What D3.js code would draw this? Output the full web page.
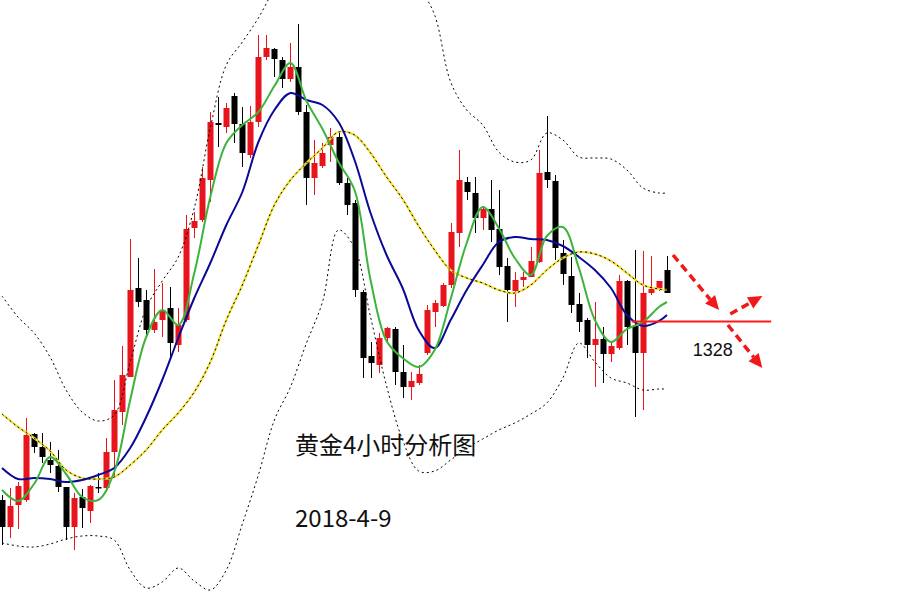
<!DOCTYPE html>
<html>
<head>
<meta charset="utf-8">
<script src="https://cdn.jsdelivr.net/npm/d3@7/dist/d3.min.js"></script>
<style>
html,body{margin:0;padding:0;background:#fff;}
svg{display:block;}
</style>
</head>
<body>
<svg id="chart" width="906" height="602"></svg>
<script>
// ---- candle data (price) ----
const opens  = [1310.1,1307.4,1309.6,1310.1,1316.7,1315.4,1314.1,1313.5,1311.4,1307.4,1310.4,1309.0,1311.4,1311.3,1314.9,1318.9,1322.4,1331.3,1330.1,1327.1,1328.1,1329.3,1325.6,1328.1,1337.3,1338.1,1342.1,1347.8,1347.4,1350.5,1347.7,1344.6,1347.9,1354.4,1355.2,1354.1,1352.2,1353.4,1348.9,1342.3,1343.5,1345.6,1346.4,1341.8,1339.8,1330.9,1324.5,1323.6,1326.3,1327.2,1322.9,1321.4,1321.8,1324.8,1328.9,1329.5,1331.6,1336.8,1341.9,1340.8,1338.3,1339.2,1337.2,1333.5,1331.0,1332.1,1332.4,1333.9,1342.9,1342.0,1334.8,1332.5,1329.7,1328.1,1325.6,1326.2,1324.7,1325.3,1332.0,1327.5,1324.8,1330.8,1331.3,1333.1];
const highs  = [1310.6,1311.3,1311.9,1318.3,1316.8,1316.8,1315.9,1315.1,1311.4,1310.8,1311.2,1311.6,1312.8,1316.3,1322.1,1325.5,1336.2,1334.3,1331.1,1333.2,1331.8,1331.4,1329.3,1338.6,1338.9,1343.4,1348.9,1350.4,1349.8,1350.8,1349.4,1349.5,1356.6,1356.6,1355.3,1354.4,1355.8,1357.7,1349.6,1346.1,1345.8,1347.3,1346.8,1342.3,1340.1,1331.1,1325.9,1326.8,1327.4,1327.4,1325.6,1322.9,1323.6,1329.6,1330.1,1331.8,1337.8,1345.1,1342.4,1342.4,1339.4,1342.1,1341.1,1334.3,1332.9,1332.9,1335.4,1345.1,1348.5,1342.6,1336.1,1334.4,1330.8,1328.3,1329.9,1327.4,1325.9,1332.6,1332.1,1335.1,1335.0,1334.5,1331.6,1334.5];
const lows   = [1305.6,1306.3,1307.2,1309.9,1314.8,1313.8,1312.8,1310.9,1306.1,1305.1,1307.3,1307.8,1310.8,1310.9,1312.3,1317.6,1322.4,1329.4,1326.4,1326.8,1326.4,1324.1,1324.9,1327.9,1336.3,1337.9,1339.9,1345.4,1346.8,1345.8,1343.4,1344.3,1347.4,1354.1,1352.4,1351.3,1351.9,1348.6,1339.6,1340.6,1343.3,1343.9,1341.6,1338.6,1330.4,1322.3,1322.3,1322.8,1325.9,1321.6,1320.3,1320.1,1321.6,1324.6,1327.4,1329.4,1331.3,1335.4,1340.1,1336.8,1337.1,1335.9,1332.6,1327.9,1329.4,1331.4,1332.4,1333.8,1341.3,1334.1,1331.6,1328.8,1326.9,1324.3,1321.4,1321.8,1323.9,1325.1,1325.6,1318.4,1319.1,1330.6,1331.0,1331.0];
const closes = [1307.4,1309.5,1311.5,1316.6,1315.4,1314.4,1313.6,1311.4,1307.4,1310.3,1309.3,1311.5,1311.3,1314.9,1319.1,1322.6,1331.1,1329.9,1327.1,1327.9,1329.1,1325.8,1327.6,1337.2,1338.0,1342.3,1347.9,1347.6,1349.3,1347.7,1344.8,1347.9,1354.4,1355.3,1354.2,1352.2,1353.4,1348.9,1342.3,1343.8,1344.8,1346.4,1341.8,1339.6,1331.1,1324.3,1323.8,1326.3,1327.3,1322.9,1321.4,1322.0,1322.7,1329.1,1329.8,1331.6,1336.9,1342.1,1340.9,1338.3,1339.2,1337.1,1333.4,1331.1,1332.1,1332.4,1334.0,1342.8,1342.1,1335.3,1332.7,1329.6,1327.9,1325.6,1326.2,1324.7,1325.5,1332.0,1327.4,1324.8,1330.8,1331.2,1332.0,1330.8];

// ---- indicator lines, sampled at these candle indexes ----
const lineIdx = [0,2,4,6,8,10,12,14,16,18,20,22,24,26,28,30,32,34,36,38,40,42,44,46,48,50,52,54,56,58,60,62,64,66,68,70,72,74,76,78,80,82,83];
const maFast  = [1311.1,1310.0,1311.7,1314.4,1312.7,1310.4,1310.1,1312.9,1320.1,1326.4,1329.1,1327.6,1332.8,1340.4,1345.8,1347.6,1348.9,1351.5,1353.8,1350.0,1347.2,1343.9,1341.1,1332.1,1326.0,1324.3,1323.4,1325.1,1330.2,1335.8,1339.4,1337.3,1334.3,1332.6,1336.5,1337.4,1333.3,1328.1,1325.9,1327.2,1327.9,1329.4,1329.9];
const maMid   = [1313.3,1312.2,1312.3,1312.2,1311.9,1312.1,1312.6,1313.3,1315.3,1318.4,1322.1,1326.3,1330.3,1333.8,1337.6,1340.9,1345.9,1349.1,1350.8,1350.1,1349.6,1347.9,1344.1,1338.8,1334.6,1331.3,1327.1,1325.3,1328.1,1331.1,1333.6,1335.9,1336.4,1336.2,1336.1,1335.5,1334.4,1333.1,1331.3,1328.6,1327.5,1328.0,1328.6];
const maSlow  = [1318.7,1317.4,1316.3,1315.0,1313.1,1312.3,1312.2,1312.4,1313.6,1315.1,1317.1,1318.8,1320.9,1323.9,1328.1,1331.6,1335.6,1339.6,1342.1,1343.8,1345.3,1346.9,1346.6,1344.8,1342.4,1340.2,1337.5,1335.1,1333.1,1332.3,1331.8,1331.1,1330.8,1331.6,1333.1,1334.3,1334.9,1334.7,1334.0,1332.8,1331.6,1331.2,1331.1];
const bandUp  = [1330.5,1328.4,1326.8,1324.4,1321.1,1318.9,1318.0,1318.6,1323.9,1329.3,1332.0,1334.4,1339.3,1347.3,1353.6,1355.9,1358.3,1361.3,1364.1,1367.1,1369.1,1370.1,1370.1,1369.1,1367.1,1364.6,1361.6,1358.6,1351.9,1349.1,1347.6,1344.9,1343.9,1344.1,1346.8,1346.1,1344.4,1344.3,1344.2,1343.1,1341.3,1340.8,1340.8];
const bandLow = [1305.8,1305.5,1305.4,1305.7,1306.2,1306.5,1306.5,1306.1,1303.1,1301.3,1301.9,1303.3,1302.0,1301.1,1303.1,1307.7,1312.6,1318.1,1321.4,1325.8,1329.9,1337.1,1335.3,1328.4,1321.5,1316.1,1313.0,1313.0,1314.1,1315.3,1316.2,1317.1,1317.8,1318.7,1319.8,1322.3,1325.8,1323.9,1322.3,1321.8,1321.1,1321.2,1321.2];

// ---- annotation data ----
const levelPrice = 1328;
const levelLabel = "1328";
const levelSpan = [78.6, 96.0];
const arrows = [
  {from:[83.75,1334.6], to:[89.5,1329.1]},
  {from:[90.9,1328.7],  to:[94.9,1330.5]},
  {from:[90.6,1327.6],  to:[94.9,1323.3]}
];
const labelAt = [86.2, 1324.5];
const titleText = "黄金4小时分析图";
const dateText = "2018-4-9";

const W = 906, H = 602;
const svg = d3.select("#chart");

const x = d3.scaleLinear().domain([0, 83]).range([2, 667]);
const y = d3.scaleLinear().domain([1360.1, 1299.9]).range([0, 602]);

const candles = opens.map((o, i) => ({i, o, h: highs[i], l: lows[i], c: closes[i]}));
const UP = "#e8141c", DOWN = "#000000";
const bodyW = 6;

const cg = svg.append("g");
cg.selectAll("line.wick").data(candles).join("line")
  .attr("x1", d => Math.round(x(d.i)) + 0.5).attr("x2", d => Math.round(x(d.i)) + 0.5)
  .attr("y1", d => y(d.h)).attr("y2", d => y(d.l))
  .attr("stroke", d => d.c >= d.o ? UP : DOWN).attr("stroke-width", 1);
cg.selectAll("rect.body").data(candles).join("rect")
  .attr("x", d => Math.round(x(d.i)) + 0.5 - bodyW / 2)
  .attr("width", bodyW)
  .attr("y", d => y(Math.max(d.o, d.c)))
  .attr("height", d => Math.max(1.5, Math.abs(y(d.o) - y(d.c))))
  .attr("fill", d => d.c >= d.o ? UP : DOWN);

function series(vals){ return lineIdx.map((k, j) => [k, vals[j]]); }
const lineGen = d3.line().x(d => x(d[0])).y(d => y(d[1])).curve(d3.curveCatmullRom.alpha(0.5));

const lg = svg.append("g");
lg.append("path").attr("d", lineGen(series(bandUp))).attr("fill","none").attr("stroke","#000").attr("stroke-width",1).attr("stroke-dasharray","2,3");
lg.append("path").attr("d", lineGen(series(bandLow))).attr("fill","none").attr("stroke","#000").attr("stroke-width",1).attr("stroke-dasharray","2,3");
lg.append("path").attr("d", lineGen(series(maSlow))).attr("fill","none").attr("stroke","#f4e03a").attr("stroke-width",2.2);
lg.append("path").attr("d", lineGen(series(maSlow))).attr("fill","none").attr("stroke","#000").attr("stroke-width",1).attr("stroke-dasharray","2,3");
lg.append("path").attr("d", lineGen(series(maMid))).attr("fill","none").attr("stroke","#0a0a96").attr("stroke-width",2);
lg.append("path").attr("d", lineGen(series(maFast))).attr("fill","none").attr("stroke","#3cb43c").attr("stroke-width",2);

// annotations
const ag = svg.append("g");
ag.append("line")
  .attr("x1", x(levelSpan[0])).attr("x2", x(levelSpan[1]))
  .attr("y1", Math.round(y(levelPrice)) + 0.5).attr("y2", Math.round(y(levelPrice)) + 0.5)
  .attr("stroke", "#ff1a1a").attr("stroke-width", 2);

arrows.forEach(a => {
  const x1 = x(a.from[0]), y1 = y(a.from[1]), x2 = x(a.to[0]), y2 = y(a.to[1]);
  const ang = Math.atan2(y2 - y1, x2 - x1);
  const len = 14, half = 6.5;
  const bx = x2 - len * Math.cos(ang), by = y2 - len * Math.sin(ang);
  ag.append("line").attr("x1", x1).attr("y1", y1).attr("x2", bx).attr("y2", by)
    .attr("stroke", "#f01818").attr("stroke-width", 3.5).attr("stroke-dasharray", "8,5");
  const px = -Math.sin(ang), py = Math.cos(ang);
  ag.append("path")
    .attr("d", `M${x2},${y2}L${bx + px * half},${by + py * half}L${bx - px * half},${by - py * half}Z`)
    .attr("fill", "#f01818");
});

ag.append("text").attr("x", x(labelAt[0])).attr("y", y(labelAt[1]))
  .attr("font-family", "Liberation Sans, Arial, sans-serif").attr("font-size", 18)
  .attr("fill", "#111").text(levelLabel);

svg.append("text").attr("x", 295).attr("y", 454)
  .attr("font-family", "Noto Sans CJK SC, sans-serif").attr("font-size", 24)
  .attr("fill", "#111").text(titleText);
svg.append("text").attr("x", 295).attr("y", 527)
  .attr("font-family", "Noto Sans CJK SC, sans-serif").attr("font-size", 24)
  .attr("fill", "#111").text(dateText);
</script>
</body>
</html>
